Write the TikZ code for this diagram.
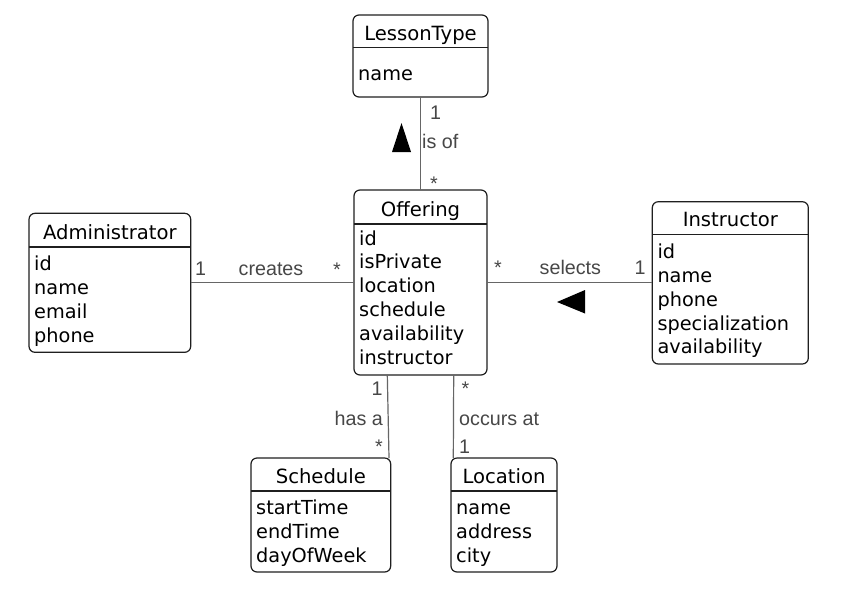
\documentclass[tikz,border=0pt]{standalone}
\usepackage{fontspec}
\setmainfont{DejaVu Sans}
\newfontfamily\labelfont{Liberation Sans}
\usetikzlibrary{calc}

\tikzset{
  classbox/.style={draw=black!88, line width=1.2pt, rounded corners=6pt, inner sep=0pt, outer sep=0pt, anchor=north west},
  divline/.style={draw=black!88, line width=1.4pt},
  classtitle/.style={font=\fontsize{19.6}{24}\selectfont, anchor=base, inner sep=0pt},
  attr/.style={font=\fontsize{19.3}{24}\selectfont, anchor=base west, inner sep=0pt},
  assoc/.style={draw=black!60, line width=1.2pt},
  mult/.style={font=\labelfont\fontsize{19.7}{24}\selectfont, text=black!72, anchor=base west, inner sep=0pt},
  dirmark/.style={fill=black},
}

% #1 name, #2 x1, #3 y1, #4 x2, #5 y2, #6 divider y, #7 title, #8 first baseline, #9 attributes
\newcommand\umlclass[9]{%
  \node[classbox, minimum width={(#4-#2)*1pt}, minimum height={(#5-#3)*1pt}] (#1) at (#2,#3) {};
  \draw[divline] (#1.west |- 0,#6) -- (#1.east |- 0,#6);
  \node[classtitle] (#1-title) at ({(#2+#4)/2},{#6-7.7}) {#7};
  \foreach \a [count=\i from 0] in {#9}
    \node[attr] (#1-a\i) at ({#2+5},{#8+23.9*\i}) {\a};
}

\begin{document}
\begin{tikzpicture}[x=1pt,y=-1pt]
\fill[white] (0,0) rectangle (843,590);
\useasboundingbox (0,0) rectangle (843,590);

\umlclass{lesson}{353}{15}{488}{97}{47.7}{LessonType}{80}{name}
\umlclass{offering}{354}{190}{487}{375}{224}{Offering}{245}{id,isPrivate,location,schedule,availability,instructor}
\umlclass{admin}{29}{213.3}{190.7}{352.3}{247}{Administrator}{270.7}{id,name,email,phone}
\umlclass{instr}{652.3}{201.7}{808.3}{364}{234.3}{Instructor}{258.3}{id,name,phone,specialization,availability}
\umlclass{sched}{251}{458}{390.7}{572}{491}{Schedule}{514.3}{startTime,endTime,dayOfWeek}
\umlclass{loc}{451}{458}{557}{572}{491}{Location}{514.3}{name,address,city}

% is of
\draw[assoc] (lesson.south) -- (lesson.south |- offering.north);
\node[mult] (m1) at (430,119.3) {1};
\node[mult] (isof) at (422,148.3) {is of};
\node[mult] (m2) at (430,190) {*};
\fill[dirmark] (392,152) -- (411,152) -- (401.5,123) -- cycle;

% creates
\draw[assoc] (admin.east |- 0,282.7) -- (offering.west |- 0,282.7);
\node[mult] (m3) at (195,275) {1};
\node[mult] (creates) at (238.5,275) {creates};
\node[mult] (m4) at (333,276) {*};

% selects
\draw[assoc] (offering.east |- 0,282.7) -- (instr.west |- 0,282.7);
\node[mult] (m5) at (494,274) {*};
\node[mult] (selects) at (539.5,274) {selects};
\node[mult] (m6) at (634.5,274) {1};
\fill[dirmark] (557,302) -- (585,290) -- (585,313.5) -- cycle;

% has a
\coordinate (hasA1) at ($(offering.south west)+(33.3,0)$);
\coordinate (hasA2) at ($(sched.north west)+(138,0)$);
\draw[assoc] (hasA1) -- (hasA2);
\node[mult] (m7) at (371.5,395) {1};
\node[mult] (hasa) at (334.5,425) {has a};
\node[mult] (m8) at (375,453) {*};

% occurs at
\coordinate (occ1) at ($(offering.south west)+(99.7,0)$);
\coordinate (occ2) at ($(loc.north west)+(2.3,0)$);
\draw[assoc] (occ1) -- (occ2);
\node[mult] (m9) at (461.5,395) {*};
\node[mult] (occurs) at (459,425) {occurs at};
\node[mult] (m10) at (459,453.3) {1};

\end{tikzpicture}
\end{document}
